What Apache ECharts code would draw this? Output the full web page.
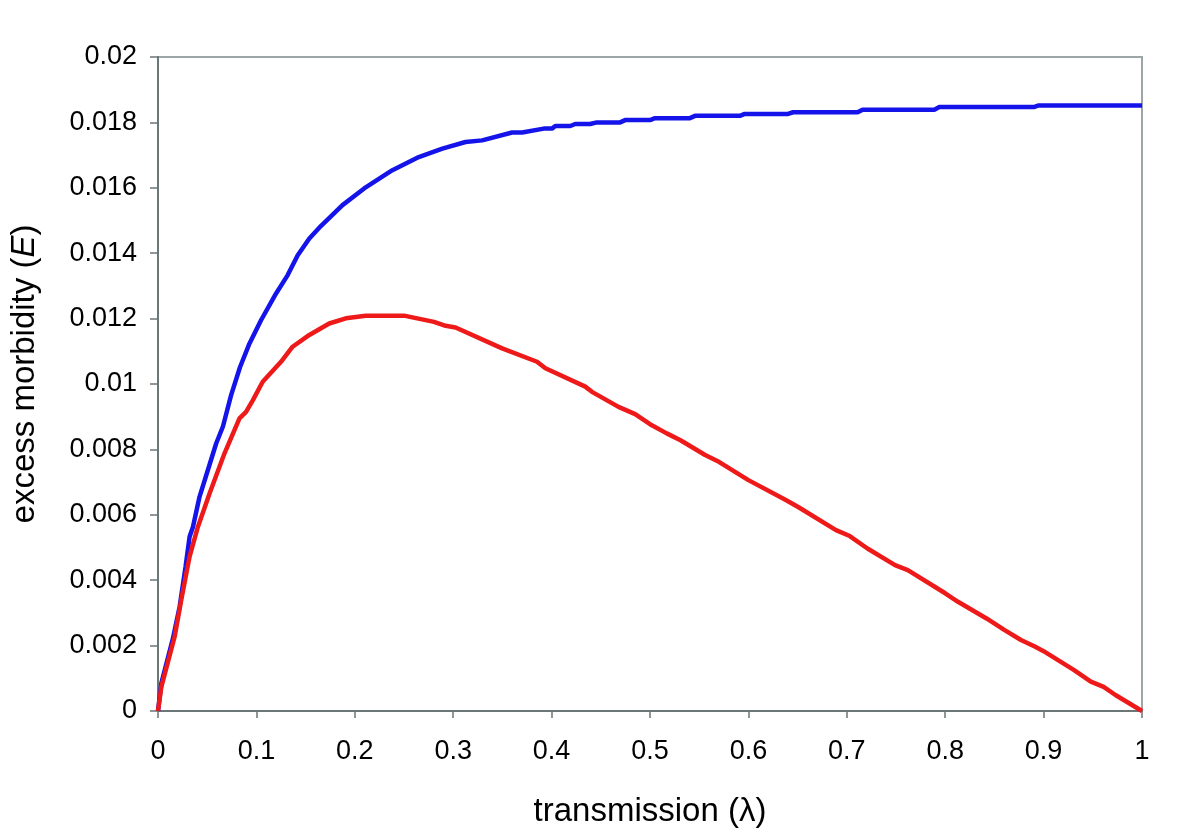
<!DOCTYPE html>
<html>
<head>
<meta charset="utf-8">
<title>excess morbidity vs transmission</title>
<script src="https://cdn.jsdelivr.net/npm/echarts@6/dist/echarts.min.js"></script>
<style>
  html, body { margin: 0; padding: 0; background: #fff; }
  #chart { width: 1200px; height: 833px; }
</style>
</head>
<body>
<div id="chart"></div>
<script>
// upper (blue) curve
const blueLambda = [0, 0.0034, 0.0152, 0.022, 0.028, 0.0321, 0.0355, 0.0422, 0.0507, 0.0591, 0.066, 0.0743,
  0.0834, 0.093, 0.1047, 0.12, 0.1318, 0.142, 0.1538, 0.1655, 0.1875, 0.2095, 0.2382, 0.265, 0.289, 0.3125,
  0.3294, 0.3598, 0.37, 0.392, 0.4004, 0.4038, 0.419, 0.424, 0.4392, 0.446, 0.4697, 0.4747, 0.5, 0.5051,
  0.5406, 0.5457, 0.5913, 0.5963, 0.6403, 0.6454, 0.711, 0.716, 0.789, 0.794, 0.89, 0.895, 1.0]
const blueE = [0, 0.00085, 0.00222, 0.00319, 0.00441, 0.00533, 0.00563, 0.00655, 0.00737, 0.00818, 0.0087, 0.00966,
  0.01052, 0.01124, 0.01195, 0.01277, 0.01333, 0.01394, 0.01445, 0.01483, 0.01547, 0.01598, 0.01654, 0.01694, 0.0172, 0.0174,
  0.01745, 0.01769, 0.01769, 0.01781, 0.01781, 0.01789, 0.01789, 0.01795, 0.01795, 0.018, 0.018, 0.01807, 0.01807, 0.01813,
  0.01813, 0.0182, 0.0182, 0.01826, 0.01826, 0.01831, 0.01831, 0.01839, 0.01839, 0.01847, 0.01847, 0.01852, 0.01852]

// lower (red) curve
const redLambda = [0, 0.0034, 0.0169, 0.0236, 0.0321, 0.0405, 0.0524, 0.0676, 0.0828, 0.0895, 0.0963, 0.1064,
  0.125, 0.1368, 0.1538, 0.174, 0.1909, 0.2112, 0.25, 0.2805, 0.2923, 0.3024, 0.3497, 0.3852, 0.3937, 0.4342,
  0.441, 0.468, 0.4849, 0.5, 0.517, 0.531, 0.556, 0.57, 0.6, 0.638, 0.651, 0.689, 0.703, 0.721, 0.749, 0.762,
  0.8, 0.813, 0.842, 0.86, 0.877, 0.891, 0.9, 0.931, 0.948, 0.961, 0.973, 1.0]
const redE = [0, 0.00074, 0.00227, 0.00339, 0.00472, 0.00563, 0.00665, 0.00788, 0.00895, 0.00915, 0.0095, 0.01007,
  0.01068, 0.01114, 0.0115, 0.01185, 0.01201, 0.01209, 0.01209, 0.0119, 0.01178, 0.01173, 0.01109, 0.01068, 0.01048, 0.00992,
  0.00976, 0.0093, 0.00908, 0.00877, 0.00849, 0.00828, 0.00783, 0.00762, 0.00706, 0.00645, 0.00623, 0.00553, 0.00535, 0.00497, 0.00446, 0.00431,
  0.0036, 0.00334, 0.00283, 0.00248, 0.00217, 0.00197, 0.00183, 0.00125, 0.0009, 0.00074, 0.00049, 0]

const zip = (xs, ys) => xs.map((x, i) => [x, ys[i]])

const font = "'Liberation Sans', Arial, sans-serif"
const axisColor = '#6b7676'

const chart = echarts.init(document.getElementById('chart'))
chart.setOption({
  animation: false,
  backgroundColor: '#fff',
  grid: {
    left: 155, right: 58, top: 57, bottom: 122,
    show: true, borderColor: '#9ca6a6', borderWidth: 2
  },
  xAxis: {
    type: 'value',
    min: 0, max: 1, interval: 0.1,
    name: 'transmission (λ)',
    nameLocation: 'middle',
    nameGap: 84,
    nameTextStyle: { fontSize: 33, color: '#000', fontFamily: font },
    axisLine: { lineStyle: { color: axisColor, width: 2 } },
    axisTick: { length: 7, lineStyle: { color: axisColor, width: 1.5 } },
    axisLabel: { fontSize: 27, color: '#000', fontFamily: font, margin: 27 },
    splitLine: { show: false }
  },
  yAxis: {
    type: 'value',
    min: 0, max: 0.02, interval: 0.002,
    name: 'excess morbidity ({i|E})',
    nameLocation: 'middle',
    nameGap: 117,
    nameTextStyle: {
      fontSize: 33, color: '#000', fontFamily: font,
      padding: [0, 0, 0, 20],
      rich: { i: { fontSize: 33, color: '#000', fontFamily: font, fontStyle: 'italic' } }
    },
    axisLine: { lineStyle: { color: axisColor, width: 2 } },
    axisTick: { length: 8, lineStyle: { color: axisColor, width: 1.5 } },
    axisLabel: { fontSize: 27, color: '#000', fontFamily: font, margin: 21 },
    splitLine: { show: false }
  },
  series: [
    {
      type: 'line',
      data: zip(blueLambda, blueE),
      showSymbol: false,
      lineStyle: { color: '#1414ea', width: 4.5 }
    },
    {
      type: 'line',
      data: zip(redLambda, redE),
      showSymbol: false,
      lineStyle: { color: '#ee1a1a', width: 4.5 }
    }
  ]
})
</script>
</body>
</html>
